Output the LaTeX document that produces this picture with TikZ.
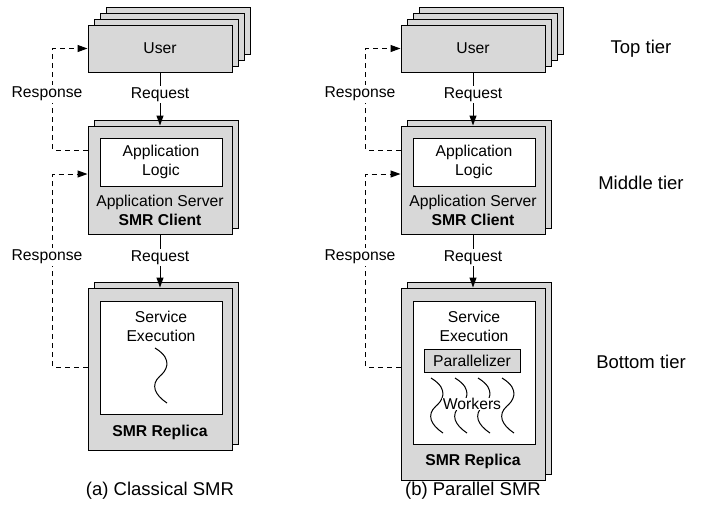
\documentclass[tikz,border=0pt]{standalone}
\usepackage{fontspec}
\setmainfont{Liberation Sans}
\usetikzlibrary{arrows.meta}
\definecolor{boxgray}{RGB}{216,216,216}
\begin{document}
\begin{tikzpicture}[x=1pt,y=-1pt,
  font=\fontsize{15.7}{19}\selectfont,
  gbox/.style={draw=black,fill=boxgray,line width=1pt,inner sep=0pt,minimum width=144pt},
  wbox/.style={draw=black,fill=white,line width=1pt,inner sep=0pt,minimum width=122pt},
  txt/.style={inner sep=0pt,align=center},
  lbl/.style={fill=white,inner sep=1.5pt},
  big/.style={font=\fontsize{18.5}{22}\selectfont},
  req/.style={line width=1pt,-{Triangle[length=10pt,width=7pt]}},
  resp/.style={line width=1pt,dash pattern=on 5pt off 4pt,-{Triangle[length=10pt,width=7pt]}},
  squig/.pic={\draw[line width=1pt] (0,0) .. controls (20,12) and (10,24) .. (5,28) .. controls (-5,37) and (0,47) .. (12,55);},
]
\useasboundingbox (0,0) rectangle (707,515);

% ===== Column (a) =====
\node[gbox,minimum height=47pt] (userA3) at (178,30.5) {};
\node[gbox,minimum height=47pt] (userA2) at (172,36.5) {};
\node[gbox,minimum height=47pt] (userA1) at (166,42.5) {};
\node[gbox,minimum height=47pt] (userA) at (160,48.5) {User};

\node[gbox,minimum height=108pt] (servA1) at (166,174) {};
\node[gbox,minimum height=108pt] (servA) at (160,180) {};
\node[wbox,minimum height=48pt,align=center] (logicA) at (161,162) {Application\\Logic};
\node[txt] (asA) at (160,210) {Application Server\\\textbf{SMR Client}};

\node[gbox,minimum height=162pt] (repA1) at (166,363) {};
\node[gbox,minimum height=162pt] (repA) at (160,369) {};
\node[wbox,minimum height=113pt] (seA) at (161,357.5) {};
\node[txt] (seAt) at (161,326.5) {Service\\Execution};
\pic at (155,348) {squig};
\node[txt] (smrA) at (160,432) {\textbf{SMR Replica}};

\draw[req] (userA) -- node[lbl,pos=0.41] (reqA1) {Request} (servA);
\draw[req] (servA) -- node[lbl,pos=0.43] (reqA2) {Request} (repA);
\draw[resp] ([yshift=30pt]servA.west) -- ++(-35,0) |- (userA.west);
\draw[resp] ([yshift=2pt]repA.west) -- ++(-35,0) |- ([yshift=6pt]servA.west);
\node[lbl] (respA1) at (47,94) {Response};
\node[lbl] (respA2) at (47,257) {Response};

\node[big] (capA) at (160,491) {(a) Classical SMR};

% ===== Column (b) =====
\node[gbox,minimum height=47pt] (userB3) at (491,30.5) {};
\node[gbox,minimum height=47pt] (userB2) at (485,36.5) {};
\node[gbox,minimum height=47pt] (userB1) at (479,42.5) {};
\node[gbox,minimum height=47pt] (userB) at (473,48.5) {User};

\node[gbox,minimum height=108pt] (servB1) at (479,174) {};
\node[gbox,minimum height=108pt] (servB) at (473,180) {};
\node[wbox,minimum height=48pt,align=center] (logicB) at (474,162) {Application\\Logic};
\node[txt] (asB) at (473,210) {Application Server\\\textbf{SMR Client}};

\node[gbox,minimum height=192pt] (repB1) at (479,378) {};
\node[gbox,minimum height=192pt] (repB) at (473,384) {};
\node[wbox,minimum height=143pt] (seB) at (474,372.5) {};
\node[txt] (seBt) at (474,326.5) {Service\\Execution};
\node[gbox,minimum width=96pt,minimum height=23pt] (par) at (472,360.5) {Parallelizer};
\pic at (431,378) {squig};
\pic at (455,378) {squig};
\pic at (478,378) {squig};
\pic at (502,378) {squig};
\node[fill=white,inner sep=0.5pt] (workers) at (472,404) {Workers};
\node[txt] (smrB) at (473,461) {\textbf{SMR Replica}};

\draw[req] (userB) -- node[lbl,pos=0.41] (reqB1) {Request} (servB);
\draw[req] (servB) -- node[lbl,pos=0.43] (reqB2) {Request} (repB);
\draw[resp] ([yshift=30pt]servB.west) -- ++(-35,0) |- (userB.west);
\draw[resp] ([yshift=17pt]repB.west) -- ++(-35,0) |- ([yshift=6pt]servB.west);
\node[lbl] (respB1) at (360,94) {Response};
\node[lbl] (respB2) at (360,257) {Response};

\node[big] (capB) at (473,491) {(b) Parallel SMR};

% ===== Tier labels =====
\node[big] (top) at (641,49) {Top tier};
\node[big] (mid) at (641,183) {Middle tier};
\node[big] (bot) at (641,362) {Bottom tier};
\end{tikzpicture}
\end{document}
